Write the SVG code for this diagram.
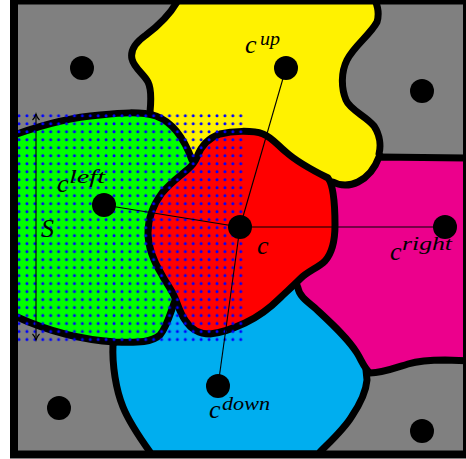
<svg xmlns="http://www.w3.org/2000/svg" width="466" height="459" viewBox="0 0 466 459">
<defs>
<style>
.cell{stroke:#000;stroke-width:7;stroke-linejoin:round}
.ctr{fill:#000}
.lbl{font-family:"Liberation Serif","DejaVu Serif",serif;font-style:italic;fill:#000}
.m{font-size:26px}
.s{font-size:19px}
.conn{stroke:#000;stroke-width:1.1;fill:none}
</style>
<pattern id="dots" x="15" y="112" width="7.92" height="7.99" patternUnits="userSpaceOnUse">
<circle cx="4" cy="3.8" r="1.5" fill="#0000ff"/>
</pattern>
</defs>
<rect x="14" y="0" width="453" height="454" fill="#808080"/>
<g id="regions">
<path id="cell-up" class="cell" fill="#fff200" d="M 172,-8 L 177,2 C 170,14 158,26 146,35 C 136,42 130,50 132,59 C 134,68 144,74 148,82 C 152,90 151,102 150,112 L 165,150 L 200,180 L 270,170 L 340,200 L 390,175 L 385,162 L 379,154 C 381,146 380,135 374,126 C 366,116 350,110 346,100 C 341,88 341,72 347,60 C 354,46 370,35 377,22 C 380,12 377,4 372,-8 Z"/>
<path id="cell-down" class="cell" fill="#00aeef" d="M 113,344 C 112,365 116,390 123,407 C 129,422 140,438 150,452 L 151,454 L 319,454 L 320,452 C 332,440 345,428 352,416 C 360,404 366,392 367,380 L 366,370 L 375,355 L 335,295 L 290,270 L 240,300 L 175,290 L 130,330 Z"/>
<path id="cell-right" class="cell" fill="#ec008c" d="M 379,157 L 470,158 L 470,361 L 445,360 C 430,360 418,361 408,364 C 395,368 382,373 370,373 C 364,368 362,361 357,353 C 348,338 330,322 315,308 C 305,300 299,295 298,288 L 295,280 L 310,260 L 322,230 L 322,195 L 333,182 C 340,186 350,186 358,182 C 368,177 375,168 379,157 Z"/>
<path id="cell-left" class="cell" fill="#00ff00" d="M 14,135 L 17,134 C 45,124 75,117 100,115 C 120,113 140,111 156,116 C 172,122 184,138 192,160 L 205,175 L 180,210 L 168,260 L 176,298 C 171,310 168,325 160,335 C 152,342 140,343 115,342 C 85,340 50,332 17,317 L 14,316 Z"/>
<path id="cell-c" class="cell" fill="#ff0000" d="M 197,157 C 201,146 208,138 220,134 C 232,131 252,130 263,134 C 273,138 278,146 286,152 C 296,161 312,170 328,178 C 334,186 335,205 335,225 C 335,240 333,252 325,261 C 318,268 308,271 300,279 C 292,287 285,293 280,298 C 272,306 260,316 245,323 C 232,329 222,333 210,334 C 198,334 190,328 185,320 C 180,313 178,305 175,298 C 172,290 166,283 162,275 C 154,262 148,248 148,233 C 148,218 153,205 162,193 C 170,183 180,176 187,170 C 192,166 195,162 197,157 Z"/>
</g>
<rect id="window" x="15" y="112" width="229.7" height="231.7" fill="url(#dots)"/>
<g id="size">
<line class="conn" x1="36" y1="114" x2="36" y2="340"/>
<path class="conn" d="M 32.5,120 Q 35,117.5 36,114 Q 37,117.5 39.5,120"/>
<path class="conn" d="M 32.5,334 Q 35,336.5 36,340 Q 37,336.5 39.5,334"/>
<text class="lbl m" x="41" y="237">S</text>
</g>
<g id="connectors">
<line class="conn" x1="240" y1="227" x2="286" y2="68"/>
<line class="conn" x1="240" y1="227" x2="104" y2="205"/>
<line class="conn" x1="240" y1="227" x2="445" y2="227"/>
<line class="conn" x1="240" y1="227" x2="218" y2="386"/>
</g>
<g id="node-c">
<circle class="ctr" cx="240" cy="227" r="12"/>
<text class="lbl m" x="257" y="254">c</text>
</g>
<g id="node-up">
<circle class="ctr" cx="286" cy="68" r="12"/>
<text class="lbl m" x="245" y="53">c</text>
<text class="lbl s" x="260" y="45" textLength="20" lengthAdjust="spacingAndGlyphs">up</text>
</g>
<g id="node-left">
<circle class="ctr" cx="104" cy="205" r="12"/>
<text class="lbl m" x="57" y="192">c</text>
<text class="lbl s" x="69" y="183" textLength="36" lengthAdjust="spacingAndGlyphs">left</text>
</g>
<g id="node-right">
<circle class="ctr" cx="445" cy="227" r="12"/>
<text class="lbl m" x="390" y="260">c</text>
<text class="lbl s" x="402" y="250" textLength="50" lengthAdjust="spacingAndGlyphs">right</text>
</g>
<g id="node-down">
<circle class="ctr" cx="218" cy="386" r="12"/>
<text class="lbl m" x="209" y="418">c</text>
<text class="lbl s" x="222" y="410" textLength="48" lengthAdjust="spacingAndGlyphs">down</text>
</g>
<g id="node-g1"><circle class="ctr" cx="82" cy="68" r="12"/></g>
<g id="node-g2"><circle class="ctr" cx="422" cy="91" r="12"/></g>
<g id="node-g3"><circle class="ctr" cx="59" cy="408" r="12"/></g>
<g id="node-g4"><circle class="ctr" cx="422" cy="431" r="12"/></g>
<rect id="frame" x="14" y="0.5" width="453" height="454" fill="none" stroke="#000" stroke-width="8"/>
</svg>
